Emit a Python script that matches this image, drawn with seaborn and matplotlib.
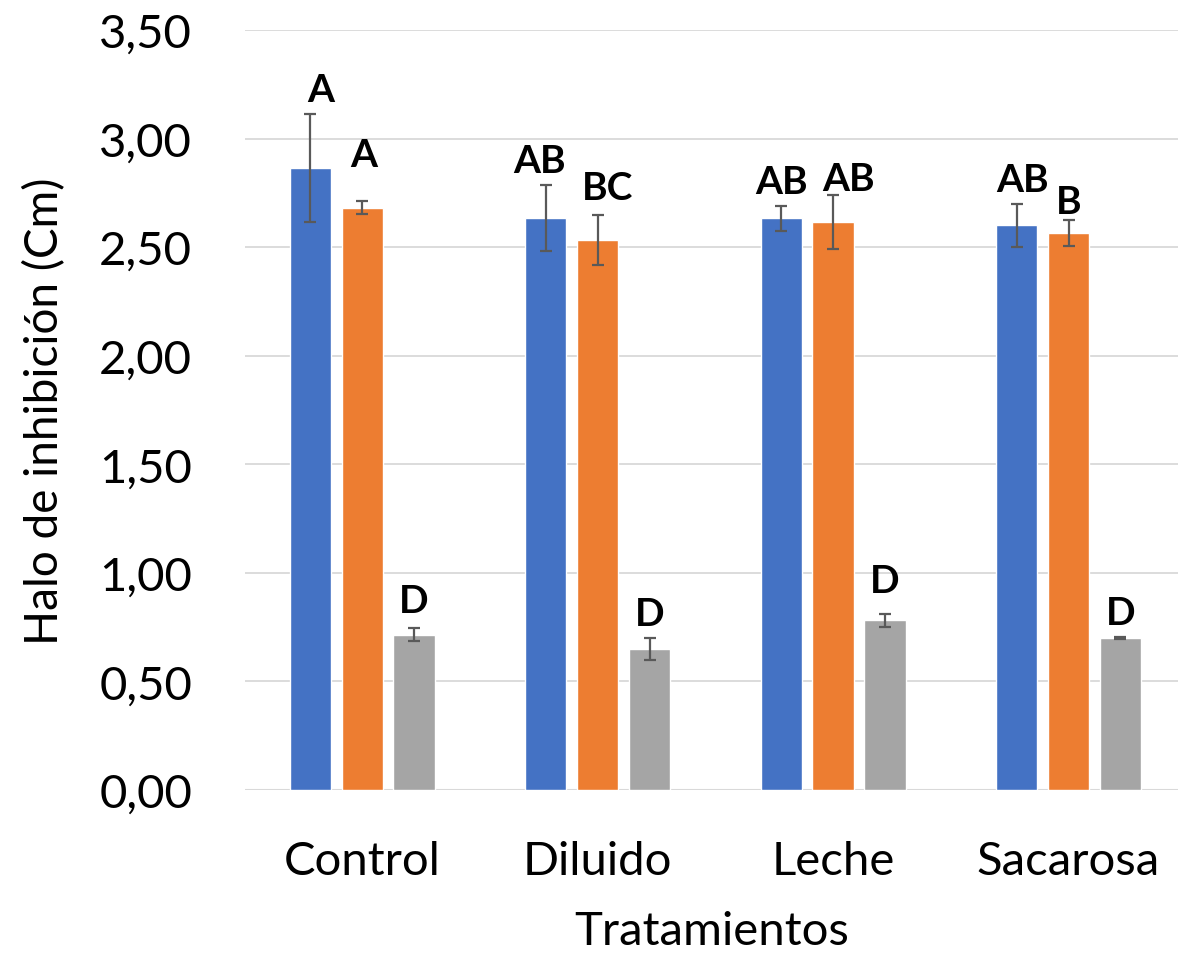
import numpy as np
import pandas as pd
import matplotlib
matplotlib.use("Agg")
import matplotlib.pyplot as plt
import seaborn as sns

# Treatments and measured inhibition halos (cm), three series per treatment
tratamientos = ["Control", "Diluido", "Leche", "Sacarosa"]
series = ["Serie 1", "Serie 2", "Serie 3"]

serie1 = [2.865, 2.632, 2.632, 2.600]
serie2 = [2.682, 2.532, 2.616, 2.565]
serie3 = [0.714, 0.648, 0.782, 0.700]

err1 = [0.250, 0.152, 0.057, 0.100]
err2 = [0.030, 0.115, 0.126, 0.058]
err3 = [0.030, 0.050, 0.030, 0.003]

# Significance letters
letras1 = ["A", "AB", "AB", "AB"]
letras2 = ["A", "BC", "AB", "B"]
letras3 = ["D", "D", "D", "D"]

yticks = [0.0, 0.5, 1.0, 1.5, 2.0, 2.5, 3.0, 3.5]

colores = ["#4472C4", "#ED7D31", "#A5A5A5"]

errores = [err1, err2, err3]
letras = [letras1, letras2, letras3]

df = pd.DataFrame({
    "Tratamiento": tratamientos * 3,
    "Serie": [s for s in series for _ in tratamientos],
    "Halo": serie1 + serie2 + serie3,
})

sns.set_theme(style="white")
plt.rcParams["font.family"] = ["Lato", "DejaVu Sans"]

fig = plt.figure(figsize=(11.78, 9.54), dpi=100)
ax = fig.add_axes([0.208, 0.1709, 0.792, 0.7966])

sns.barplot(data=df, x="Tratamiento", y="Halo", hue="Serie",
            order=tratamientos, hue_order=series, palette=colores,
            width=0.662, gap=0.21, errorbar=None, legend=False,
            saturation=1, ax=ax, zorder=3)

# Letter spacing above the error bars, with a few hand nudges (dx, dy)
sep = 0.06
ajuste = {(0, 0): (0.047, 0.0), (1, 0): (0.008, 0.10),
          (0, 1): (-0.025, 0.0), (1, 1): (0.042, 0.015),
          (1, 2): (0.064, -0.04), (0, 3): (0.025, 0.0),
          (1, 3): (0.0, -0.025), (2, 0): (0.0, 0.015),
          (2, 2): (0.0, 0.04)}

barras = [p for p in ax.patches if p.get_width() > 0]
barras.sort(key=lambda p: p.get_x())
for k, bar in enumerate(barras):
    j, i = divmod(k, len(series))
    x = bar.get_x() + bar.get_width() / 2
    h = bar.get_height()
    e = errores[i][j]
    dx, dy = ajuste.get((i, j), (0.0, 0.0))
    ax.errorbar(x, h, yerr=e, fmt="none", ecolor="#595959",
                elinewidth=1.6, capsize=4.5, capthick=1.6, zorder=4)
    ax.text(x + dx, h + e + sep + dy, letras[i][j],
            ha="center", va="baseline", fontsize=28, fontweight="bold",
            color="black", zorder=5)

ax.set_ylim(0, 3.5)
ax.set_xlim(-0.497, 3.465)
ax.set_yticks(yticks)
ax.set_yticklabels([f"{v:.2f}".replace(".", ",") for v in yticks])
ax.yaxis.grid(True, color="#D9D9D9", linewidth=1.3, zorder=0)
ax.xaxis.grid(False)
ax.set_axisbelow(True)
for s in ax.spines.values():
    s.set_visible(False)
ax.axhline(0, color="#D9D9D9", linewidth=1.5, zorder=1)

ax.tick_params(axis="both", length=0, labelsize=34, colors="black")
ax.tick_params(axis="y", pad=38)
ax.tick_params(axis="x", pad=36)
ax.set_xlabel("Tratamientos", fontsize=34, labelpad=20, color="black")
ax.set_ylabel("Halo de inhibición (Cm)", fontsize=33, labelpad=24, color="black")

fig.savefig("out.png", dpi=100)
